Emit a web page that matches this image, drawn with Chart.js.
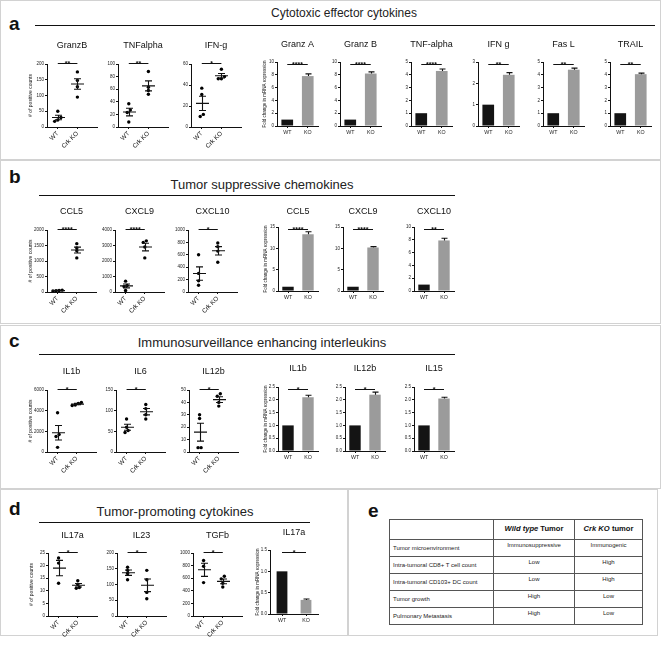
<!DOCTYPE html>
<html>
<head>
<meta charset="utf-8">
<script src="https://cdn.jsdelivr.net/npm/chart.js@4.4.0/dist/chart.umd.min.js"></script>
<style>
body { margin: 0; background: #fff; font-family: 'Liberation Sans', Arial, sans-serif; }
#page { position: relative; width: 663px; height: 645px; overflow: hidden; background: #fff; }
.panel { position: absolute; border: 1px solid #d2d2d2; box-sizing: border-box; }
.letter { position: absolute; font-weight: bold; font-size: 19px; line-height: 1; color: #111; }
.head { position: absolute; line-height: 1; color: #222; white-space: nowrap; transform: translateX(-50%); }
.rule { position: absolute; height: 0; border-top: 1.5px solid #111; }
canvas { position: absolute; }
#tbl { position: absolute; left: 389px; top: 519px; width: 253px; border-collapse: collapse; font-size: 6px; color: #222; table-layout: fixed; }
#tbl td, #tbl th { border: 1px solid #555; padding: 0 3px; line-height: 1.1; }
#tbl tr.hd { height: 20px; }
#tbl tr.bd { height: 17px; }
#tbl th { font-size: 7.6px; color: #111; }
#tbl td.c { text-align: center; vertical-align: top; padding-top: 2px; }
</style>
</head>
<body>
<div id="page">
  <div class="panel" style="left:0;top:0;width:661px;height:160px"></div>
  <div class="panel" style="left:0;top:160px;width:661px;height:164px"></div>
  <div class="panel" style="left:0;top:325px;width:661px;height:164px"></div>
  <div class="panel" style="left:0;top:489px;width:348px;height:147px"></div>
  <div class="panel" style="left:348px;top:489px;width:310px;height:147px"></div>

  <div class="letter" style="left:9px;top:14px">a</div>
  <div class="letter" style="left:9px;top:167px">b</div>
  <div class="letter" style="left:9px;top:331px">c</div>
  <div class="letter" style="left:9px;top:499px">d</div>
  <div class="letter" style="left:368px;top:501px">e</div>

  <div class="head" style="left:344px;top:7px;font-size:12px">Cytotoxic effector cytokines</div>
  <div class="head" style="left:262px;top:178px;font-size:13px">Tumor suppressive chemokines</div>
  <div class="head" style="left:262px;top:336px;font-size:13px">Immunosurveillance enhancing interleukins</div>
  <div class="head" style="left:175px;top:505px;font-size:13px">Tumor-promoting cytokines</div>

  <div class="rule" style="left:35px;top:25px;width:620px"></div>
  <div class="rule" style="left:39px;top:195px;width:416px"></div>
  <div class="rule" style="left:39px;top:354px;width:416px"></div>
  <div class="rule" style="left:39px;top:522px;width:271px"></div>

  <table id="tbl">
    <colgroup><col style="width:104px"><col style="width:81px"><col style="width:68px"></colgroup>
    <tr class="hd"><th></th><th><i>Wild type</i> Tumor</th><th><i>Crk KO</i> tumor</th></tr>
  </table>
</div>
<script>
const FONT = "'Liberation Sans', Arial, Helvetica, sans-serif";
Chart.defaults.font.family = FONT;
Chart.defaults.color = '#222';

const scatterCats = ['WT', 'Crk KO'];
const barCats = ['WT', 'KO'];

// a - cytotoxic effector cytokines, counts
const aCountTitles = ['GranzB', 'TNFalpha', 'IFN-g'];
const aCountWT = [[50, 30, 22, 18], [37, 27, 23, 8], [37, 31, 12, 10]];
const aCountKO = [[175, 148, 128, 95], [88, 63, 58, 52], [55, 48, 46, 46]];
const aCountMax = [200, 100, 60];
const aCountStep = [50, 20, 20];
const aCountStars = ['**', '**', '*'];

// a - fold change
const aFoldTitles = ['Granz A', 'Granz B', 'TNF-alpha', 'IFN g', 'Fas L', 'TRAIL'];
const aFoldWT = [1, 1, 1, 1, 1, 1];
const aFoldKO = [7.8, 8.2, 4.3, 2.4, 4.4, 4.05];
const aFoldErr = [0.35, 0.25, 0.15, 0.1, 0.12, 0.08];
const aFoldMax = [10, 10, 5, 3, 5, 5];
const aFoldStep = [2, 2, 1, 1, 1, 1];
const aFoldStars = ['****', '****', '****', '**', '**', '**'];

// b - tumor suppressive chemokines
const bCountTitles = ['CCL5', 'CXCL9', 'CXCL10'];
const bCountWT = [[60, 50, 40, 30], [700, 420, 350, 100], [600, 300, 180, 110]];
const bCountKO = [[1560, 1420, 1330, 1100], [3300, 3200, 2900, 2200], [790, 730, 660, 480]];
const bCountMax = [2000, 4000, 1000];
const bCountStep = [500, 1000, 200];
const bCountStars = ['****', '****', '*'];

const bFoldTitles = ['CCL5', 'CXCL9', 'CXCL10'];
const bFoldWT = [1, 1, 1];
const bFoldKO = [13.3, 10.2, 7.9];
const bFoldErr = [0.6, 0.2, 0.35];
const bFoldMax = [15, 15, 10];
const bFoldStep = [5, 5, 2];
const bFoldStars = ['****', '****', '**'];

// c - immunosurveillance enhancing interleukins
const cCountTitles = ['IL1b', 'IL6', 'IL12b'];
const cCountWT = [[3800, 1700, 1500, 450], [80, 60, 52, 47], [30, 27, 3.5, 3.5]];
const cCountKO = [[4800, 4700, 4550, 4500], [115, 105, 90, 80], [47, 45, 40, 37]];
const cCountMax = [6000, 150, 50];
const cCountStep = [2000, 50, 10];
const cCountStars = ['*', '*', '*'];

const cFoldTitles = ['IL1b', 'IL12b', 'IL15'];
const cFoldWT = [1, 1, 1];
const cFoldKO = [2.1, 2.2, 2.05];
const cFoldErr = [0.08, 0.1, 0.05];
const cFoldMax = [2.5, 2.5, 2.5];
const cFoldStep = [0.5, 0.5, 0.5];
const cFoldStars = ['*', '*', '*'];

// d - tumor-promoting cytokines
const dCountTitles = ['IL17a', 'IL23', 'TGFb'];
const dCountWT = [[23, 21, 13], [155, 145, 135, 115], [880, 790, 530]];
const dCountKO = [[14, 12.5, 11.3, 11], [145, 115, 75, 55], [630, 590, 520, 460]];
const dCountMax = [25, 200, 1000];
const dCountStep = [5, 50, 200];
const dCountStars = ['*', '*', '*'];

const dFoldTitles = ['IL17a'];
const dFoldWT = [1];
const dFoldKO = [0.33];
const dFoldErr = [0.02];
const dFoldMax = [1.5];
const dFoldStep = [0.5];
const dFoldStars = ['*'];

// e - summary table
const tableRows = ['Tumor microenvironment', 'Intra-tumoral CD8+ T cell count', 'Intra-tumoral CD103+ DC count', 'Tumor growth', 'Pulmonary Metastasis'];
const tableWT = ['Immunosuppressive', 'Low', 'Low', 'High', 'High'];
const tableKO = ['Immunogenic', 'High', 'High', 'Low', 'Low'];

const page = document.getElementById('page');

// draws titles, error bars, means and significance brackets
const decor = {
  id: 'decor',
  afterDraw(chart, args, o) {
    const ctx = chart.ctx, a = chart.chartArea;
    const xs = chart.scales.x, ys = chart.scales.y;
    ctx.save();
    ctx.fillStyle = '#111';
    ctx.textAlign = 'center';
    ctx.textBaseline = 'middle';
    ctx.font = '9px ' + FONT;
    ctx.fillText(o.title, (a.left + a.right) / 2, a.top - o.titleGap);
    if (o.yTitle) {
      ctx.save();
      ctx.translate(a.left - o.yTitleOff, (a.top + a.bottom) / 2);
      ctx.rotate(-Math.PI / 2);
      ctx.font = o.yTitleSize + 'px ' + FONT;
      ctx.fillText(o.yTitle, 0, 0);
      ctx.restore();
    }
    ctx.strokeStyle = '#111';
    ctx.lineWidth = 1.1;
    o.errs.forEach(e => {
      const x = Math.round(xs.getPixelForValue(e.x)) + 0.5;
      const y1 = ys.getPixelForValue(e.lo), y2 = ys.getPixelForValue(e.hi);
      ctx.beginPath();
      ctx.moveTo(x, y1); ctx.lineTo(x, y2);
      ctx.moveTo(x - e.cap, y2); ctx.lineTo(x + e.cap, y2);
      if (e.lowCap) { ctx.moveTo(x - e.cap, y1); ctx.lineTo(x + e.cap, y1); }
      if (e.mean !== undefined) {
        const ym = ys.getPixelForValue(e.mean);
        ctx.moveTo(x - e.half, ym); ctx.lineTo(x + e.half, ym);
      }
      ctx.stroke();
    });
    const s = o.sig;
    const ly = Math.round(a.top + s.dy) + 0.5;
    const x1 = xs.getPixelForValue(s.x1), x2 = xs.getPixelForValue(s.x2);
    ctx.lineWidth = 1;
    ctx.beginPath(); ctx.moveTo(x1, ly); ctx.lineTo(x2, ly); ctx.stroke();
    ctx.font = 'bold 7px ' + FONT;
    ctx.textBaseline = 'alphabetic';
    ctx.fillText(s.text, (x1 + x2) / 2, ly + 2.5);
    ctx.restore();
  }
};

function addCanvas(left, top, w, h) {
  const c = document.createElement('canvas');
  c.width = w; c.height = h;
  c.style.left = left + 'px'; c.style.top = top + 'px';
  c.style.width = w + 'px'; c.style.height = h + 'px';
  page.appendChild(c);
  return c;
}

function yAxis(max, step, w) {
  const dec = step < 1 ? 1 : 0;
  return {
    min: 0, max: max,
    afterBuildTicks: s => {
      const t = [];
      for (let v = 0; v <= max + 1e-9; v += step) t.push({ value: +v.toFixed(4) });
      s.ticks = t;
    },
    ticks: { font: { size: 4.5 }, color: '#222', padding: 1, autoSkip: false, callback: v => (+v).toFixed(dec) },
    grid: { drawOnChartArea: false, drawTicks: true, tickLength: 2, color: '#111', lineWidth: 1 },
    border: { display: true, color: '#111', width: 1 },
    afterFit: s => { s.width = w; }
  };
}

function mean(v) { return v.reduce((p, c) => p + c, 0) / v.length; }
function sem(v) {
  const m = mean(v);
  const sd = Math.sqrt(v.reduce((p, c) => p + (c - m) * (c - m), 0) / (v.length - 1));
  return sd / Math.sqrt(v.length);
}

// spread overlapping dots sideways like a dot plot
function dots(vals, cx, yMax) {
  const sorted = vals.slice().sort((p, q) => p - q);
  const groups = [];
  sorted.forEach(v => {
    const g = groups[groups.length - 1];
    if (g && v - g[g.length - 1] < yMax * 0.045) g.push(v); else groups.push([v]);
  });
  const out = [];
  groups.forEach(g => g.forEach((v, i) => out.push({ x: cx + (i - (g.length - 1) / 2) * 0.16, y: v })));
  return out;
}

const YW = 24, XH = 30, PADT = 24, PADR = 3;

function countChart(L, T, B, W, titleY, title, wt, ko, yMax, step, stars, yTitle) {
  const c = addCanvas(L - YW, T - PADT, YW + W + PADR, PADT + (B - T) + XH);
  const errs = [wt, ko].map((v, i) => ({
    x: i + 1, mean: mean(v), lo: mean(v) - sem(v), hi: mean(v) + sem(v), cap: 3.5, half: 6.5, lowCap: true
  }));
  new Chart(c, {
    type: 'scatter',
    data: { datasets: [{ data: dots(wt, 1, yMax).concat(dots(ko, 2, yMax)), pointRadius: 1.7, pointBackgroundColor: '#000', pointBorderWidth: 0 }] },
    options: {
      responsive: false, animation: false, events: [],
      layout: { padding: { top: PADT, right: PADR, left: 0, bottom: 0 } },
      plugins: {
        legend: { display: false }, tooltip: { enabled: false },
        decor: { title: title, titleGap: T - titleY, yTitle: yTitle, yTitleOff: 16, yTitleSize: 5, errs: errs,
                 sig: { x1: 1, x2: 2, dy: -1, text: stars } }
      },
      scales: {
        x: {
          type: 'linear', min: 0.45, max: 3.0,
          afterBuildTicks: s => { s.ticks = [{ value: 1 }, { value: 2 }]; },
          ticks: { autoSkip: false, minRotation: 45, maxRotation: 45, font: { size: 6.3 }, color: '#111', padding: 1,
                   callback: v => scatterCats[Math.round(v) - 1] },
          grid: { drawOnChartArea: false, tickLength: 2, color: '#111' },
          border: { display: true, color: '#111', width: 1 },
          afterFit: s => { s.height = XH; }
        },
        y: yAxis(yMax, step, YW)
      }
    },
    plugins: [decor]
  });
}

const BYW = 20, BXH = 12;

function foldChart(L, T, B, W, titleY, title, wt, ko, err, yMax, step, stars, yTitle, barPct) {
  const c = addCanvas(L - BYW, T - PADT, BYW + W + PADR, PADT + (B - T) + BXH);
  new Chart(c, {
    type: 'bar',
    data: { labels: barCats, datasets: [{ data: [wt, ko], backgroundColor: ['#141414', '#9b9b9b'], borderWidth: 0,
                                          barPercentage: barPct, categoryPercentage: 1 }] },
    options: {
      responsive: false, animation: false, events: [],
      layout: { padding: { top: PADT, right: PADR, left: 0, bottom: 0 } },
      plugins: {
        legend: { display: false }, tooltip: { enabled: false },
        decor: { title: title, titleGap: T - titleY, yTitle: yTitle, yTitleOff: 12, yTitleSize: 4.5,
                 errs: [{ x: 1, lo: ko, hi: ko + err, cap: 3 }],
                 sig: { x1: 0, x2: 1, dy: 2, text: stars } }
      },
      scales: {
        x: {
          type: 'category', offset: true,
          ticks: { font: { size: 5.3 }, color: '#222', padding: 1, maxRotation: 0 },
          grid: { offset: false, drawOnChartArea: false, tickLength: 2, color: '#111' },
          border: { display: true, color: '#111', width: 1 },
          afterFit: s => { s.height = BXH; }
        },
        y: yAxis(yMax, step, BYW)
      }
    },
    plugins: [decor]
  });
}

const COUNT_T = '# of positive counts';
const FOLD_T = 'Fold change in mRNA expression';

// panel a
[47, 118, 191].forEach((L, i) => countChart(L, 64, 127, 51, 46, aCountTitles[i], aCountWT[i], aCountKO[i],
  aCountMax[i], aCountStep[i], aCountStars[i], i === 0 ? COUNT_T : ''));
[277, 340, 411, 478, 543, 610].forEach((L, i) => foldChart(L, 62, 126, 41, 45, aFoldTitles[i], aFoldWT[i], aFoldKO[i],
  aFoldErr[i], aFoldMax[i], aFoldStep[i], aFoldStars[i], i === 0 ? FOLD_T : '', 0.57));

// panel b
[47, 115, 188].forEach((L, i) => countChart(L, 230, 292, 50, 212, bCountTitles[i], bCountWT[i], bCountKO[i],
  bCountMax[i], bCountStep[i], bCountStars[i], i === 0 ? COUNT_T : ''));
[278, 343, 414].forEach((L, i) => foldChart(L, 227, 291, 40, 212, bFoldTitles[i], bFoldWT[i], bFoldKO[i],
  bFoldErr[i], bFoldMax[i], bFoldStep[i], bFoldStars[i], i === 0 ? FOLD_T : '', 0.57));

// panel c
[47, 116, 189].forEach((L, i) => countChart(L, 390, 452, 50, 372, cCountTitles[i], cCountWT[i], cCountKO[i],
  cCountMax[i], cCountStep[i], cCountStars[i], i === 0 ? COUNT_T : ''));
[278, 345, 414].forEach((L, i) => foldChart(L, 387, 451, 40, 369, cFoldTitles[i], cFoldWT[i], cFoldKO[i],
  cFoldErr[i], cFoldMax[i], cFoldStep[i], cFoldStars[i], i === 0 ? FOLD_T : '', 0.57));

// panel d
[48, 117, 193].forEach((L, i) => countChart(L, 553, 616, 50, 536, dCountTitles[i], dCountWT[i], dCountKO[i],
  dCountMax[i], dCountStep[i], dCountStars[i], i === 0 ? COUNT_T : ''));
foldChart(270, 550, 614, 48, 533, dFoldTitles[0], dFoldWT[0], dFoldKO[0], dFoldErr[0], dFoldMax[0], dFoldStep[0],
  dFoldStars[0], FOLD_T, 0.45);

// panel e
const tbl = document.getElementById('tbl');
tableRows.forEach((r, i) => {
  const tr = document.createElement('tr');
  tr.className = 'bd';
  [r, tableWT[i], tableKO[i]].forEach((t, j) => {
    const td = document.createElement('td');
    td.textContent = t;
    if (j > 0) td.className = 'c';
    tr.appendChild(td);
  });
  tbl.appendChild(tr);
});
</script>
</body>
</html>
